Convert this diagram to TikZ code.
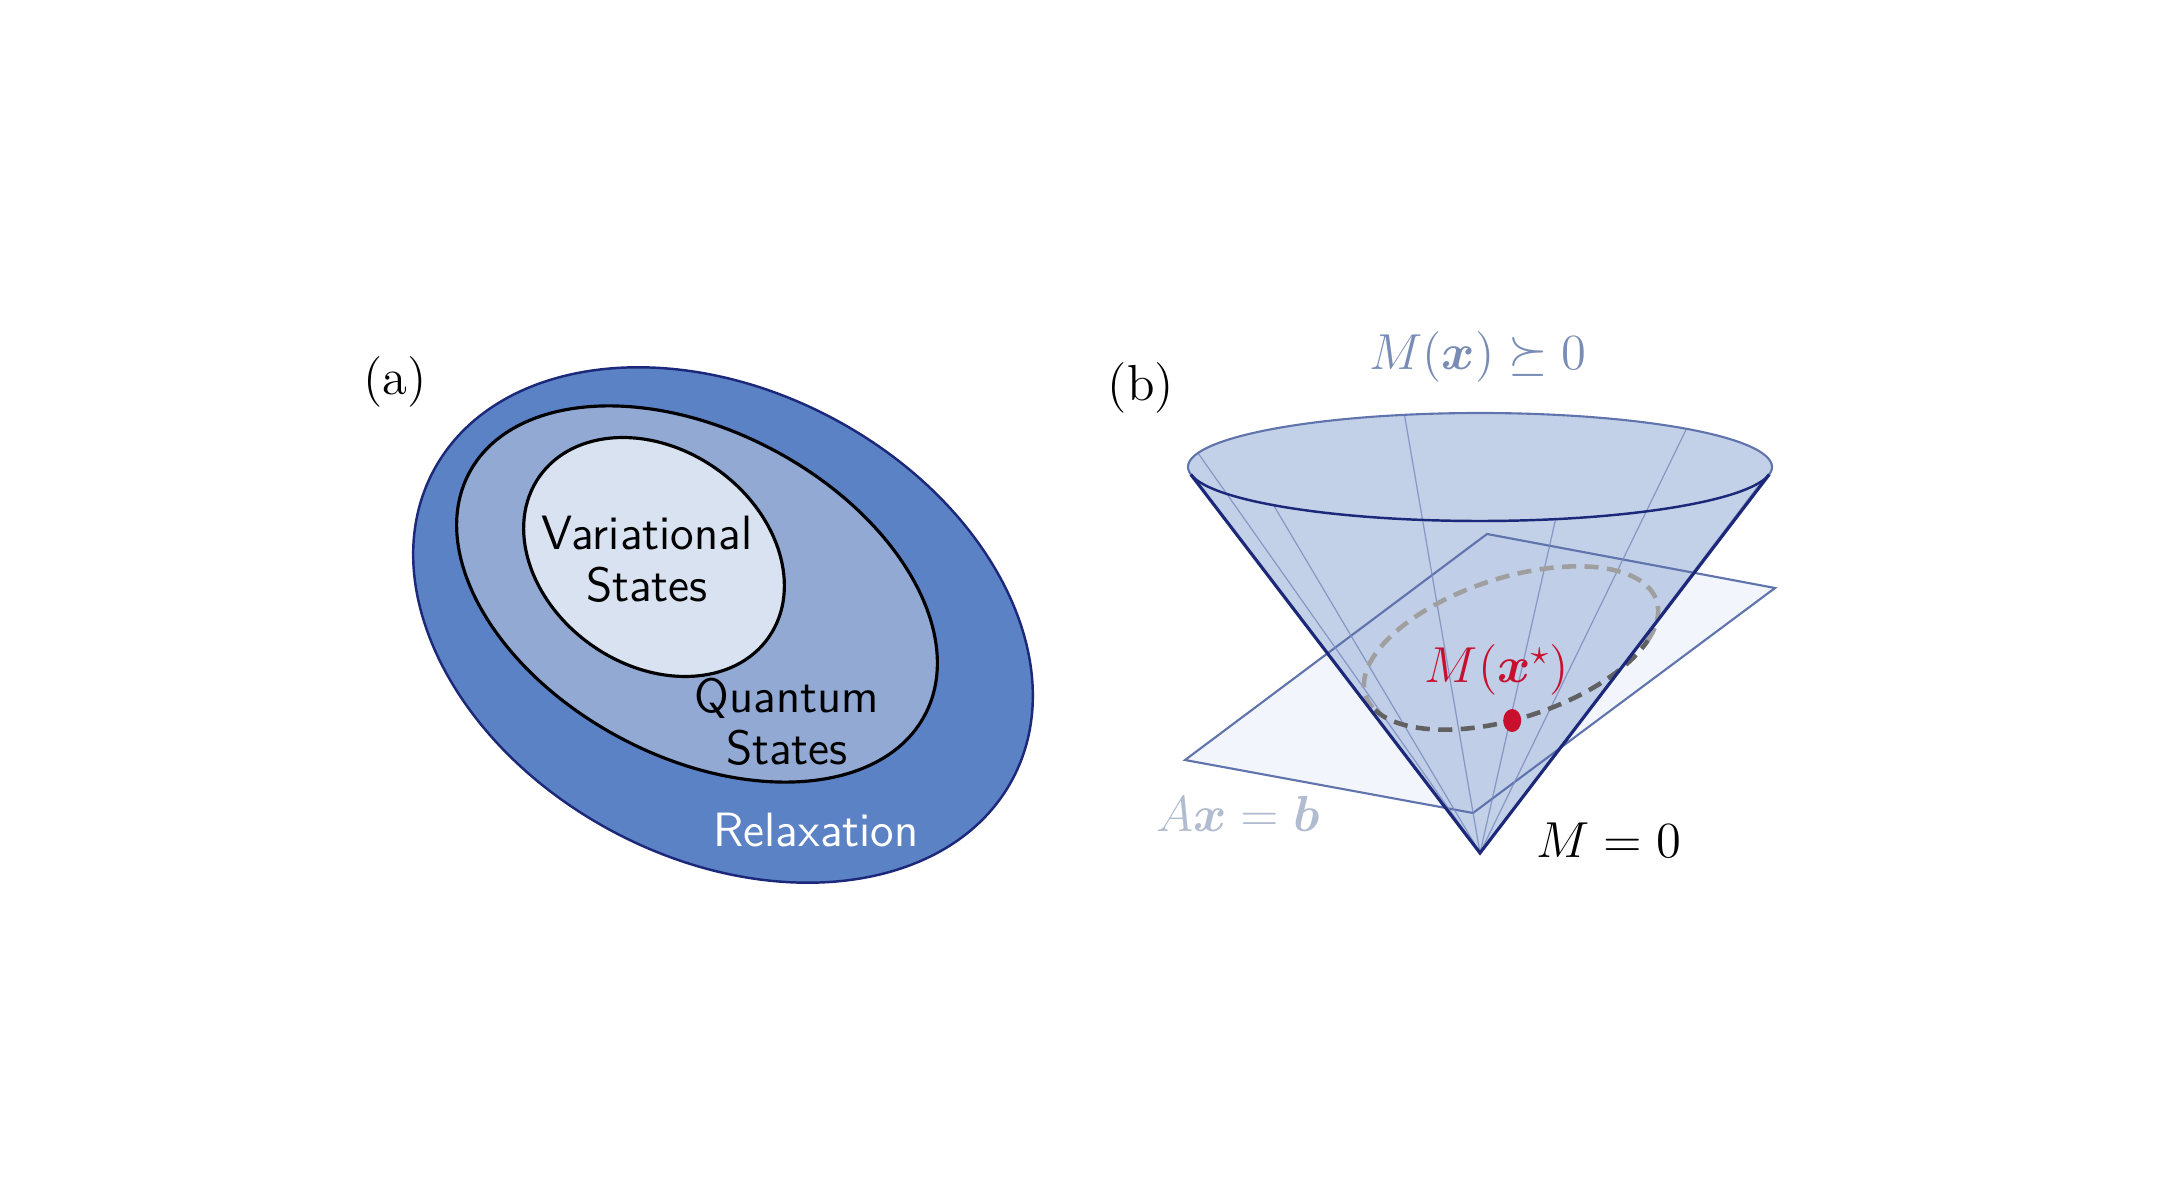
\documentclass[tikz,border=0pt]{standalone}
\usepackage{amsmath}
\usepackage{fontspec}
\usetikzlibrary{shapes.geometric}

\definecolor{relaxblue}{RGB}{92,130,198}
\definecolor{quantblue}{RGB}{145,169,211}
\definecolor{varblue}{RGB}{217,226,241}
\definecolor{navy}{RGB}{28,40,122}
\definecolor{conefill}{RGB}{180,197,226}
\definecolor{planefill}{RGB}{242,245,251}
\definecolor{planeline}{RGB}{95,115,172}
\definecolor{rulecol}{RGB}{120,138,190}
\definecolor{psdblue}{RGB}{120,140,182}
\definecolor{affgray}{RGB}{178,188,208}
\definecolor{optred}{RGB}{200,16,46}

\begin{document}
\begin{tikzpicture}[
    setname/.style={font=\sffamily\fontsize{13.7}{14.8}\selectfont, align=center},
    panel/.style={font=\Large},
    setborder/.style={draw=black, line width=0.9pt},
    edge/.style={draw=navy, line width=0.9pt},
    backrim/.style={draw=planeline, line width=0.6pt},
    ruling/.style={draw=rulecol, line width=0.35pt, opacity=0.8},
    backcurve/.style={draw=gray!75, line width=1.3pt, dash pattern=on 4pt off 2.4pt},
    frontcurve/.style={draw=black!62, line width=1.3pt, dash pattern=on 4pt off 2.4pt},
    optdot/.style={ellipse, fill=optred, minimum width=0.18cm, minimum height=0.23cm, inner sep=0pt}
]

% Fix the canvas
\useasboundingbox (0,0) rectangle (21.72,-11.96);

% Panel (a): nested sets
\draw[draw=navy, line width=0.7pt, fill=relaxblue, rotate around={-28:(7.23,-6.25)}] (7.23,-6.25) ellipse (3.28 and 2.34);
\draw[setborder, fill=quantblue, rotate around={-28:(6.97,-5.94)}] (6.97,-5.94) ellipse (2.58 and 1.63);
\draw[setborder, fill=varblue, rotate around={-35:(6.54,-5.57)}] (6.54,-5.57) ellipse (1.40 and 1.08);

\node[panel] (pa) at (3.95,-3.82) {(a)};
\node[setname] (var) at (6.47,-5.59) {Variational\\States};
\node[setname] (quant) at (7.87,-7.22) {Quantum\\States};
\node[setname, text=white] (relax) at (8.16,-8.30) {Relaxation};

% Panel (b): cone and affine plane
\coordinate (p1) at (14.87,-5.34);
\coordinate (p2) at (17.75,-5.88);
\coordinate (p3) at (14.73,-8.13);
\coordinate (p4) at (11.85,-7.60);

\fill[planefill] (p1) -- (p2) -- (p3) -- (p4) -- cycle;

\begin{scope}[shift={(14.80,-4.67)}]
  \coordinate (apex) at (0,-3.86);
  \coordinate (lt) at (188:2.92 and 0.54);
  \coordinate (rt) at (-8:2.92 and 0.54);
  \fill[conefill, opacity=0.8] (apex) -- (lt) arc[start angle=188, end angle=-8, x radius=2.92, y radius=0.54] -- cycle;
\end{scope}

\draw[draw=planeline, line width=0.6pt] (p1) -- (p2) -- (p3) -- (p4) -- cycle;

\begin{scope}[shift={(14.80,-4.67)}]
  \foreach \t in {45,105,...,345}
    \draw[ruling] (apex) -- (\t:2.92 and 0.54);
  \draw[backrim] (lt) arc[start angle=188, end angle=-8, x radius=2.92, y radius=0.54];
\end{scope}

% intersection curve
\begin{scope}[shift={(15.11,-6.48)}, rotate=18]
  \draw[backcurve] (-30:1.53 and 0.70) arc[start angle=-30, end angle=194, x radius=1.53, y radius=0.70];
  \draw[frontcurve] (194:1.53 and 0.70) arc[start angle=194, end angle=330, x radius=1.53, y radius=0.70];
  \node[optdot] (opt) at (262:1.53 and 0.70) {};
\end{scope}

\begin{scope}[shift={(14.80,-4.67)}]
  \draw[edge, line width=0.7pt] (lt) arc[start angle=188, end angle=352, x radius=2.92, y radius=0.54];
\end{scope}
\draw[edge] (lt) -- (apex) -- (rt);

% labels
\node[panel] (pb) at (11.41,-3.88) {(b)};
\node[panel, text=psdblue] (psd) at (14.78,-3.57) {$M(\boldsymbol{x}) \succeq 0$};
\node[panel, text=optred] (optlab) at (14.97,-6.70) {$M(\boldsymbol{x}^{\star})$};
\node[panel, text=affgray] (aff) at (12.38,-8.14) {$A\boldsymbol{x} = \boldsymbol{b}$};
\node[panel] (zero) at (16.09,-8.40) {$M = 0$};

\end{tikzpicture}
\end{document}
